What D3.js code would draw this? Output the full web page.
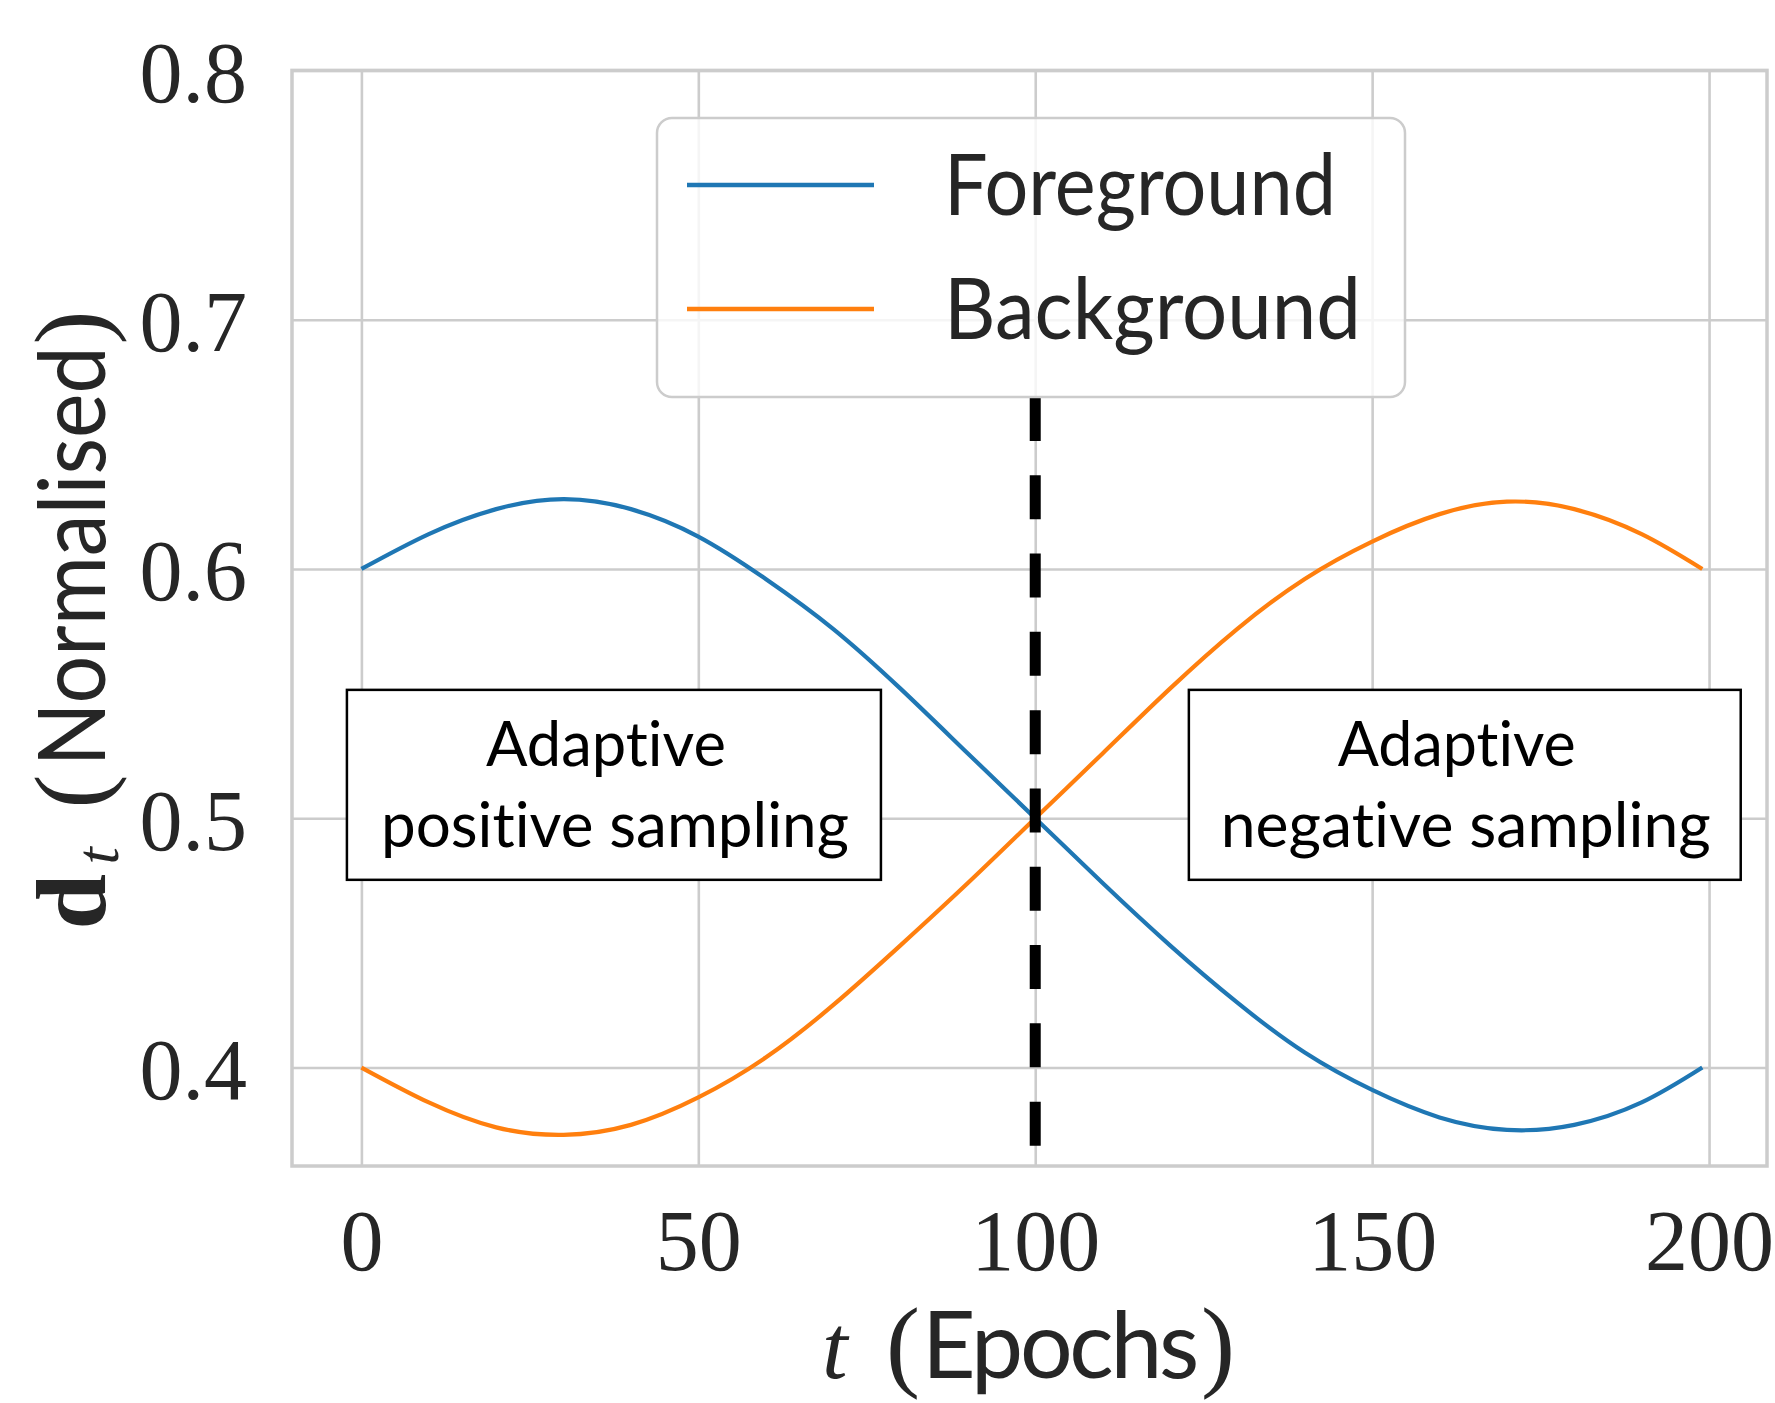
<!DOCTYPE html>
<html lang="en">
  <head>
    <meta charset="utf-8">
    <title>d_t schedule</title>
    <script src="https://d3js.org/d3.v7.min.js"></script>
    <style>
      body { margin: 0; background: #fff; }
      text { font-variant-ligatures: none; }
    </style>
  </head>
  <body>
  <script>

  var epochs = [0, 10, 20, 30, 40, 50, 60, 70, 80, 90, 100,
                110, 120, 130, 140, 150, 160, 170, 180, 190, 199];
  var foreground = [0.600, 0.614, 0.624, 0.628, 0.624, 0.613, 0.596, 0.576, 0.552, 0.526, 0.500,
                    0.474, 0.449, 0.426, 0.406, 0.391, 0.380, 0.375, 0.377, 0.386, 0.400];
  var background = [0.400, 0.386, 0.376, 0.373, 0.377, 0.388, 0.404, 0.425, 0.449, 0.474, 0.500,
                    0.526, 0.552, 0.576, 0.596, 0.611, 0.622, 0.627, 0.624, 0.614, 0.600];
  var seriesNames = ["Foreground", "Background"];
  var xTicks = [0, 50, 100, 150, 200];
  var yTicks = [0.4, 0.5, 0.6, 0.7, 0.8];
  var dividerEpoch = 100;
  var dividerSpan = [0.368, 0.669];
  var notes = [
    {lines: ["Adaptive", "positive sampling"], t0: -2.15, t1: 77.1},
    {lines: ["Adaptive", "negative sampling"], t0: 122.8, t1: 204.7}
  ];
  var noteSpan = [0.4753, 0.5515];

  var w = 1775;
  var h = 1403;
  var plot = {left: 292, right: 1767, top: 70.4, bottom: 1166};
  var colors = ["#1f77b4", "#ff7f0e"];
  var gridColor = "#cccccc";
  var textColor = "#262626";
  var serif = "'Liberation Serif', serif";
  var sans = "Lato, 'Open Sans', sans-serif";

  var svg = d3.select("body")
    .append("svg")
      .attr("width", w)
      .attr("height", h);

  svg.append("rect")
      .attr("width", w)
      .attr("height", h)
      .attr("fill", "#fff");

  var xScale = d3.scaleLinear()
      .domain([-10.3, 208.6])
      .range([plot.left, plot.right]);

  var yScale = d3.scaleLinear()
      .domain([0.3605, 0.8])
      .range([plot.bottom, plot.top]);

// grid
  var xGrid = svg.append("g")
      .attr("transform", `translate(0, ${plot.bottom})`)
      .call(d3.axisBottom(xScale).tickValues(xTicks)
        .tickSize(-(plot.bottom - plot.top)).tickFormat(""));
  var yGrid = svg.append("g")
      .attr("transform", `translate(${plot.left}, 0)`)
      .call(d3.axisLeft(yScale).tickValues(yTicks)
        .tickSize(-(plot.right - plot.left)).tickFormat(""));
  [xGrid, yGrid].forEach(function (g) {
    g.select(".domain").remove();
    g.selectAll("line").attr("stroke", gridColor).attr("stroke-width", 2.6);
  });

  svg.append("rect")
      .attr("x", plot.left)
      .attr("y", plot.top)
      .attr("width", plot.right - plot.left)
      .attr("height", plot.bottom - plot.top)
      .attr("fill", "none")
      .attr("stroke", gridColor)
      .attr("stroke-width", 3.5);

// tick labels
  var yLab = svg.append("g")
      .attr("transform", `translate(${plot.left}, 0)`)
      .call(d3.axisLeft(yScale).tickValues(yTicks).tickSize(0).tickPadding(45)
        .tickFormat(d3.format(".1f")));
  var xLab = svg.append("g")
      .attr("transform", `translate(0, ${plot.bottom})`)
      .call(d3.axisBottom(xScale).tickValues(xTicks).tickSize(0).tickPadding(43));
  [xLab, yLab].forEach(function (g) {
    g.select(".domain").remove();
    g.selectAll("text")
      .attr("font-family", serif)
      .attr("font-size", 86)
      .attr("fill", textColor);
  });
  yLab.selectAll("text").attr("dy", "0.36em");

// curves
  var line = d3.line()
      .x((d, i) => xScale(epochs[i]))
      .y(d => yScale(d))
      .curve(d3.curveNatural);

  [foreground, background].forEach(function (s, k) {
    svg.append("path")
        .attr("d", line(s))
        .attr("fill", "none")
        .attr("stroke", colors[k])
        .attr("stroke-width", 4.2);
  });

  svg.append("line")
      .attr("x1", xScale(dividerEpoch))
      .attr("x2", xScale(dividerEpoch))
      .attr("y1", yScale(dividerSpan[1]))
      .attr("y2", yScale(dividerSpan[0]))
      .attr("stroke", "#000")
      .attr("stroke-width", 11)
      .attr("stroke-dasharray", "44,34.3");

// annotation boxes
  function fitText(parent, str, left, baseline, width, font, size) {
    return parent.append("text")
        .text(str)
        .attr("x", left)
        .attr("y", baseline)
        .attr("font-family", font)
        .attr("font-size", size)
        .attr("textLength", width)
        .attr("lengthAdjust", "spacingAndGlyphs");
  }

  var noteWidths = [[240, 468], [238, 490]];
  notes.forEach(function (n, i) {
    var x0 = xScale(n.t0), x1 = xScale(n.t1);
    var y0 = yScale(noteSpan[1]), y1 = yScale(noteSpan[0]);
    svg.append("rect")
        .attr("x", x0)
        .attr("y", y0)
        .attr("width", x1 - x0)
        .attr("height", y1 - y0)
        .attr("fill", "#fff")
        .attr("stroke", "#000")
        .attr("stroke-width", 2.5);
    var cx = (x0 + x1) / 2;
    fitText(svg, n.lines[0], cx - 8 - noteWidths[i][0] / 2, y0 + 76, noteWidths[i][0], sans, 61);
    fitText(svg, n.lines[1], cx + 1 - noteWidths[i][1] / 2, y0 + 157, noteWidths[i][1], sans, 61);
  });

// legend
  var legend = svg.append("g");
  legend.append("rect")
      .attr("x", 657)
      .attr("y", 118)
      .attr("width", 748)
      .attr("height", 279)
      .attr("rx", 15)
      .attr("fill", "#fff")
      .attr("fill-opacity", 0.8)
      .attr("stroke", gridColor)
      .attr("stroke-width", 2.5);

  var legendWidths = [392, 417];
  seriesNames.forEach(function (name, i) {
    var ly = 185 + i * 124;
    legend.append("line")
        .attr("x1", 687)
        .attr("x2", 874)
        .attr("y1", ly)
        .attr("y2", ly)
        .attr("stroke", colors[i])
        .attr("stroke-width", 4.5);
    fitText(legend, name, 944, ly + 30, legendWidths[i], sans, 86)
        .attr("fill", textColor);
  });

// x title as one text, pieces placed with tspans
  var xt = svg.append("text")
      .attr("y", 1378)
      .attr("fill", textColor);
  xt.append("tspan").text("t")
      .attr("x", 822)
      .attr("font-family", serif)
      .attr("font-style", "italic")
      .attr("font-size", 92);
  xt.append("tspan").text("(")
      .attr("x", 886)
      .attr("font-family", serif)
      .attr("font-size", 102);
  var ep = xt.append("tspan").text("Epochs")
      .attr("x", 922)
      .attr("font-family", sans)
      .attr("font-size", 93);
  var epW = ep.node().getComputedTextLength();
  ep.attr("letter-spacing", (274 - epW) / 6);
  xt.append("tspan").text(")")
      .attr("x", 1201)
      .attr("font-family", serif)
      .attr("font-size", 102);

// y title, rotated
  var yt = svg.append("g")
      .attr("fill", textColor)
      .attr("transform", "translate(105, 618.5) rotate(-90)");
  yt.append("text").text("d")
      .attr("x", -311).attr("y", 0)
      .attr("font-family", serif)
      .attr("font-weight", "bold")
      .attr("font-size", 100);
  yt.append("text").text("t")
      .attr("x", -246).attr("y", 13)
      .attr("font-family", serif)
      .attr("font-style", "italic")
      .attr("font-size", 62);
  yt.append("text").text("(")
      .attr("x", -190).attr("y", 0)
      .attr("font-family", serif)
      .attr("font-size", 102);
  fitText(yt, "Normalised", -148, 0, 420, sans, 93);
  yt.append("text").text(")")
      .attr("x", 274).attr("y", 0)
      .attr("font-family", serif)
      .attr("font-size", 102);

  </script>
  </body>
</html>
